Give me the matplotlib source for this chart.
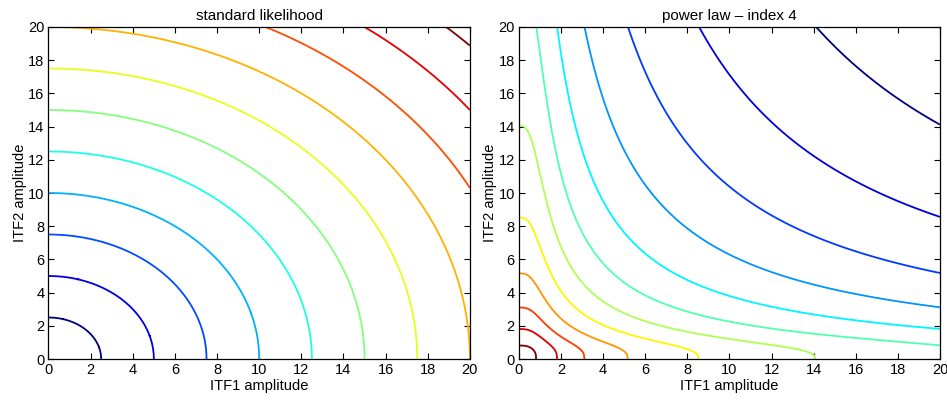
import numpy as np
import matplotlib
matplotlib.use('Agg')
import matplotlib.pyplot as plt
from matplotlib.colors import LinearSegmentedColormap

plt.rcParams['font.family'] = ['Liberation Sans', 'DejaVu Sans']
plt.rcParams['font.size'] = 10

# amplitude range shown on both axes
amp_max = 20
ticks = [0, 2, 4, 6, 8, 10, 12, 14, 16, 18, 20]

# standard likelihood: contours of combined amplitude
std_levels = [2.5, 5, 7.5, 10, 12.5, 15, 17.5, 20, 22.5, 25, 27.5]

# power law (index 4): contours of -log likelihood
pl_levels = [0.43, 1.93, 3.43, 4.93, 6.43, 7.93, 9.43, 10.93, 12.43, 13.93, 15.43, 16.93]

# matlab style jet
mjet = LinearSegmentedColormap('mjet', {
    'red':   [(0, 0, 0), (3/8, 0, 0), (5/8, 1, 1), (7/8, 1, 1), (1, 0.5, 0.5)],
    'green': [(0, 0, 0), (1/8, 0, 0), (3/8, 1, 1), (5/8, 1, 1), (7/8, 0, 0), (1, 0, 0)],
    'blue':  [(0, 0.5, 0.5), (1/8, 1, 1), (3/8, 1, 1), (5/8, 0, 0), (1, 0, 0)],
})

a = np.linspace(0, amp_max, 801)
X, Y = np.meshgrid(a, a)
Z_std = np.sqrt(X**2 + Y**2)
Z_pl = np.log(1 + X**3) + np.log(1 + Y**3)

fig = plt.figure(figsize=(9.47, 4.01), dpi=100)
ax1 = fig.add_axes([0.0512, 0.1047, 0.445, 0.828])
ax2 = fig.add_axes([0.548, 0.1047, 0.4446, 0.828])

ax1.contour(X, Y, Z_std, levels=std_levels, cmap=mjet, linewidths=1.3)
ax2.contour(X, Y, Z_pl, levels=pl_levels, cmap=mjet.reversed(), linewidths=1.3)

for ax, title in [(ax1, 'standard likelihood'), (ax2, 'power law \u2013 index 4')]:
    ax.set_xlim(0, amp_max)
    ax.set_ylim(0, amp_max)
    ax.set_xticks(ticks)
    ax.set_yticks(ticks)
    ax.tick_params(direction='in', top=True, right=True, length=4, width=0.8, pad=3,
                   labelsize=10.5)
    ax.set_title(title, pad=5, fontsize=11)
    ax.set_xlabel('ITF1 amplitude', labelpad=1, fontsize=10.5)
    ax.set_ylabel('ITF2 amplitude', labelpad=1, fontsize=10.5)
    for s in ax.spines.values():
        s.set_linewidth(0.9)

fig.savefig('out.png', dpi=100)
